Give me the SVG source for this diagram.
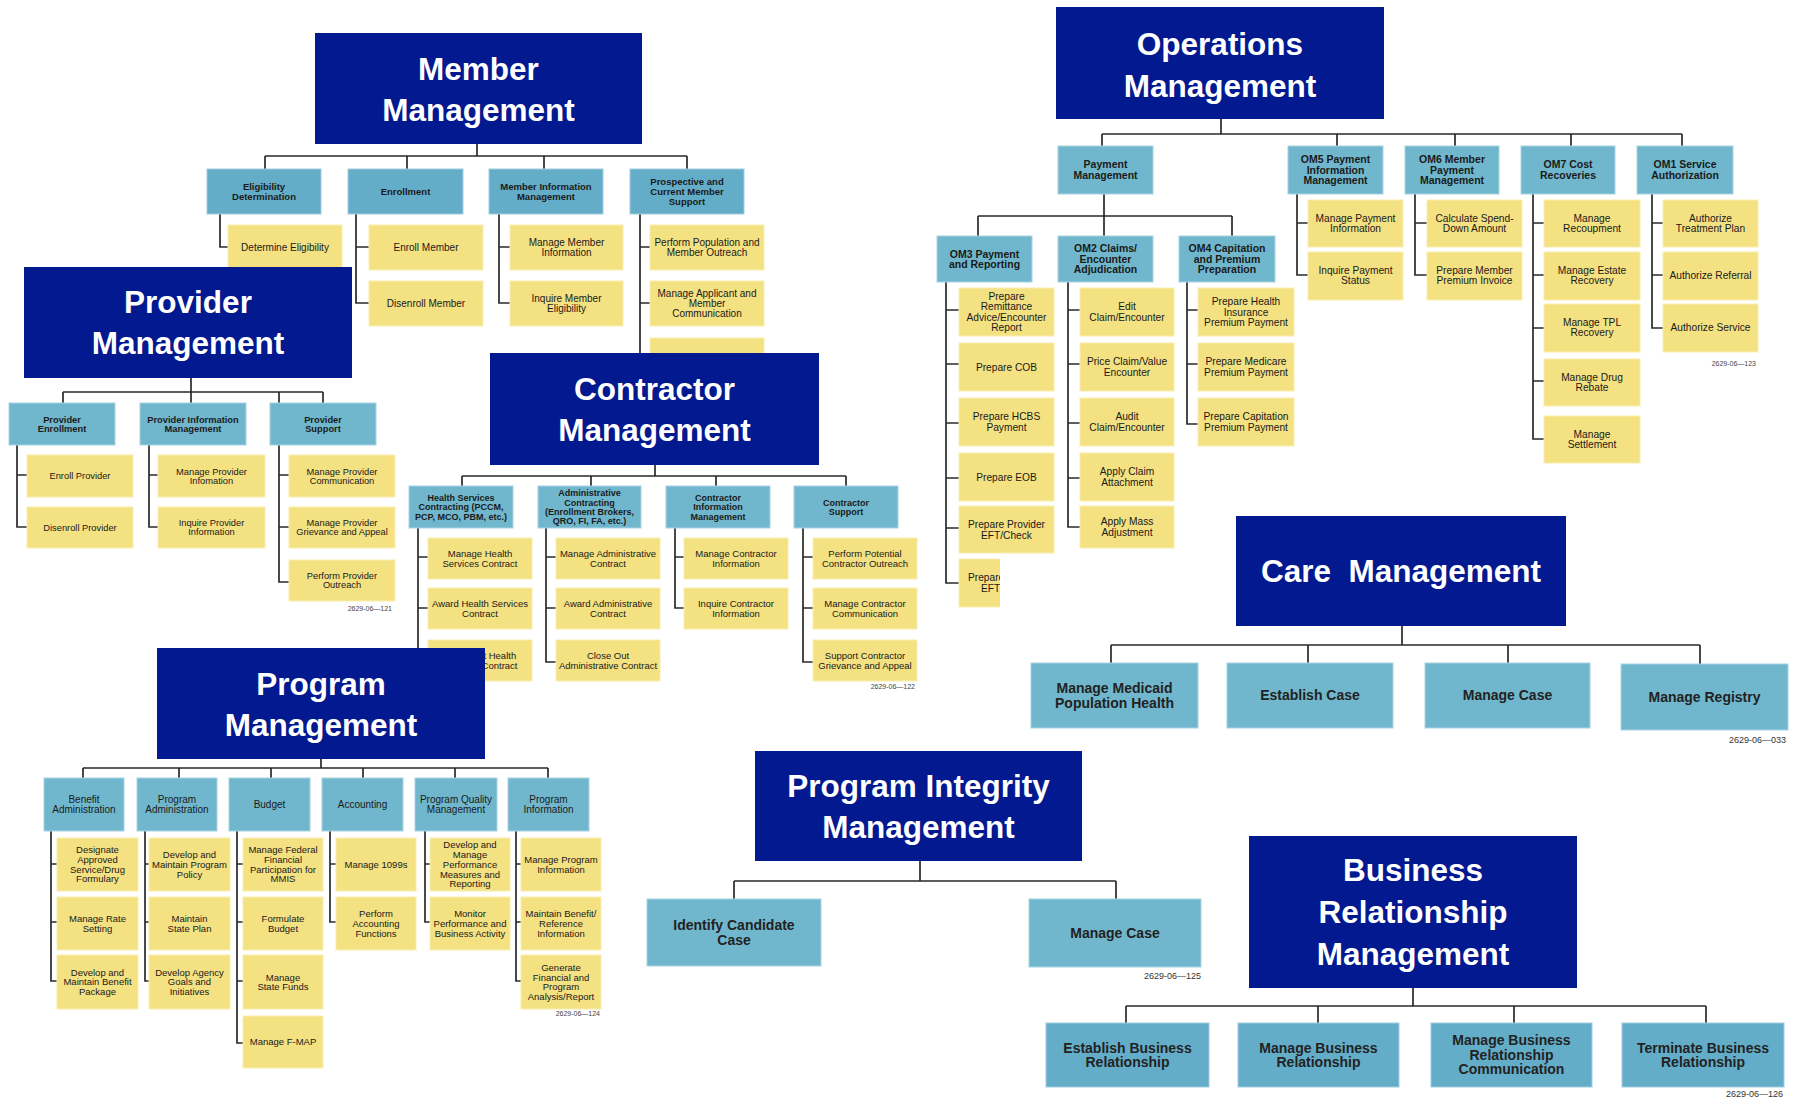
<svg xmlns="http://www.w3.org/2000/svg" width="1794" height="1099" viewBox="0 0 1794 1099">
<style>
.bg{fill:#fff}
.tb{fill:#03198F}
.tt{fill:#fff;font-family:'Liberation Sans',Arial,sans-serif;font-weight:bold;font-size:31.5px;text-anchor:middle}
.hb{fill:#70B7CD;stroke:#A8D4E2;stroke-width:1}
.hm{fill:#63ADC9;stroke:#A0CEE0;stroke-width:1}
.yb{fill:#F4E182;stroke:#FAEDB0;stroke-width:1}
.ln{stroke:#2a2a2a;stroke-width:1.7;fill:none}
text{font-family:'Liberation Sans',Arial,sans-serif;text-anchor:middle;fill:#1a1a1a}
.mh{font-size:9.5px;font-weight:bold}
.mc{font-size:10px}
.ph{font-size:9.3px;font-weight:bold}
.pc{font-size:9.3px}
.ch{font-size:9px;font-weight:bold}
.cc{font-size:9.5px}
.gh{font-size:10px}
.gc{font-size:9.5px}
.oh{font-size:10.5px;font-weight:bold}
.oc{font-size:10.2px}
.big{font-size:14px;font-weight:bold;fill:#222}
.lb{font-size:7px;text-anchor:end;fill:#444}
.lb2{font-size:9px;text-anchor:end;fill:#333}
</style>
<defs>
<clipPath id="clipL"><rect x="0" y="0" width="1000" height="1099"/></clipPath>
</defs>
<rect class="bg" x="0" y="0" width="1794" height="1099"/>

<g id="connectors">
<path class="ln" d="M477 144V156 M265 156H687 M265 156V169 M407 156V169 M544 156V169 M687 156V169 M220 214V247H228 M356 214V303H369 M356 247H369 M499 214V303H510 M499 247H510 M640 214V353 M640 247H650 M640 303H650"/>
<path class="ln" d="M191 378V392 M63 392H323 M63 392V403 M191 392V403 M279 392V403 M323 392V403 M17 445V527H27 M17 475H27 M149 445V527H158 M149 475H158 M279 445V582H289 M279 475H289 M279 527H289"/>
<path class="ln" d="M655 465V476 M462 476H846 M462 476V486 M591 476V486 M716 476V486 M846 476V486 M418 528V662H428 M418 557H428 M418 608H428 M546 528V662H556 M546 557H556 M546 608H556 M675 528V608H684 M675 557H684 M803 528V662H813 M803 557H813 M803 608H813"/>
<path class="ln" d="M321 759V768 M83 768H548 M83 768V778 M179 768V778 M271 768V778 M363 768V778 M455 768V778 M548 768V778 M51 831V981H57 M51 864H57 M51 922H57 M145 831V981H149 M145 864H149 M145 922H149 M237 831V1043H243 M237 864H243 M237 922H243 M237 981H243 M330 831V922H336 M330 864H336 M425 831V922H430 M425 864H430 M516 831V981H521 M516 864H521 M516 922H521"/>
<path class="ln" d="M1221 119V134 M1102 134H1682 M1102 134V146 M1337 134V146 M1455 134V146 M1571 134V146 M1682 134V146 M1104 194V216 M978 216H1232 M978 216V236 M1104 216V236 M1232 216V236 M946 282V583H959 M946 310H959 M946 364H959 M946 423H959 M946 478H959 M946 528H959 M1068 282V527H1080 M1068 310H1080 M1068 364H1080 M1068 423H1080 M1068 478H1080 M1187 282V424H1198 M1187 310H1198 M1187 364H1198 M1297 194V275H1308 M1297 223H1308 M1415 194V275H1427 M1415 223H1427 M1533 194V439H1544 M1533 223H1544 M1533 275H1544 M1533 328H1544 M1533 381H1544 M1652 194V328H1663 M1652 223H1663 M1652 275H1663"/>
<path class="ln" d="M1402 626V645 M1111 645H1700 M1111 645V663 M1308 645V663 M1508 645V663 M1700 645V664"/>
<path class="ln" d="M920 861V881 M734 881H1116 M734 881V899 M1116 881V899"/>
<path class="ln" d="M1413 988V1006 M1126 1006H1706 M1126 1006V1023 M1318 1006V1023 M1514 1006V1023 M1706 1006V1023"/>
</g>

<!-- Member Management -->
<g id="mm-title"><rect class="tb" x="315" y="33" width="327" height="111"/><text class="tt"><tspan x="478.5" y="80">Member</tspan><tspan x="478.5" y="121">Management</tspan></text></g>
<g id="mm-elig"><rect class="hm" x="207" y="169" width="114" height="45"/><text class="mh"><tspan x="264" y="190">Eligibility</tspan><tspan x="264" y="199.7">Determination</tspan></text></g>
<g id="mm-enr"><rect class="hm" x="348" y="169" width="115" height="45"/><text class="mh" x="405.5" y="194.8">Enrollment</text></g>
<g id="mm-info"><rect class="hm" x="489" y="169" width="114" height="45"/><text class="mh"><tspan x="546" y="190">Member Information</tspan><tspan x="546" y="199.7">Management</tspan></text></g>
<g id="mm-supp"><rect class="hm" x="630" y="169" width="114" height="45"/><text class="mh"><tspan x="687" y="185.1">Prospective and</tspan><tspan x="687" y="194.8">Current Member</tspan><tspan x="687" y="204.5">Support</tspan></text></g>
<g id="mm-det"><rect class="yb" x="228" y="225" width="114" height="45"/><text class="mc" x="285" y="251">Determine Eligibility</text></g>
<g id="mm-enroll"><rect class="yb" x="369" y="225" width="114" height="45"/><text class="mc" x="426" y="251">Enroll Member</text></g>
<g id="mm-disenroll"><rect class="yb" x="369" y="281" width="114" height="45"/><text class="mc" x="426" y="307">Disenroll Member</text></g>
<g id="mm-mmi"><rect class="yb" x="510" y="225" width="113" height="45"/><text class="mc"><tspan x="566.5" y="246.1">Manage Member</tspan><tspan x="566.5" y="255.9">Information</tspan></text></g>
<g id="mm-ime"><rect class="yb" x="510" y="281" width="113" height="45"/><text class="mc"><tspan x="566.5" y="302.1">Inquire Member</tspan><tspan x="566.5" y="311.9">Eligibility</tspan></text></g>
<g id="mm-ppo"><rect class="yb" x="650" y="225" width="114" height="45"/><text class="mc"><tspan x="707" y="246.1">Perform Population and</tspan><tspan x="707" y="255.9">Member Outreach</tspan></text></g>
<g id="mm-mac"><rect class="yb" x="650" y="281" width="114" height="45"/><text class="mc"><tspan x="707" y="297.2">Manage Applicant and</tspan><tspan x="707" y="307">Member</tspan><tspan x="707" y="316.8">Communication</tspan></text></g>
<g id="mm-hidden"><rect class="yb" x="650" y="338" width="114" height="30"/></g>

<!-- Provider Management -->
<g id="pm-title"><rect class="tb" x="24" y="267" width="328" height="111"/><text class="tt"><tspan x="188" y="313">Provider</tspan><tspan x="188" y="354">Management</tspan></text></g>
<g id="pm-enr"><rect class="hb" x="9" y="403" width="106" height="42"/><text class="ph"><tspan x="62" y="422.6">Provider</tspan><tspan x="62" y="431.9">Enrollment</tspan></text></g>
<g id="pm-info"><rect class="hb" x="140" y="403" width="106" height="42"/><text class="ph"><tspan x="193" y="422.6">Provider Information</tspan><tspan x="193" y="431.9">Management</tspan></text></g>
<g id="pm-supp"><rect class="hb" x="270" y="403" width="106" height="42"/><text class="ph"><tspan x="323" y="422.6">Provider</tspan><tspan x="323" y="431.9">Support</tspan></text></g>
<g id="pm-ep"><rect class="yb" x="27" y="455" width="106" height="42"/><text class="pc" x="80" y="479.3">Enroll Provider</text></g>
<g id="pm-dp"><rect class="yb" x="27" y="507" width="106" height="41"/><text class="pc" x="80" y="530.8">Disenroll Provider</text></g>
<g id="pm-mpi"><rect class="yb" x="158" y="455" width="107" height="42"/><text class="pc"><tspan x="211.5" y="474.6">Manage Provider</tspan><tspan x="211.5" y="483.9">Infomation</tspan></text></g>
<g id="pm-ipi"><rect class="yb" x="158" y="507" width="107" height="41"/><text class="pc"><tspan x="211.5" y="526.1">Inquire Provider</tspan><tspan x="211.5" y="535.4">Information</tspan></text></g>
<g id="pm-mpc"><rect class="yb" x="289" y="455" width="106" height="42"/><text class="pc"><tspan x="342" y="474.6">Manage Provider</tspan><tspan x="342" y="483.9">Communication</tspan></text></g>
<g id="pm-mpg"><rect class="yb" x="289" y="507" width="106" height="41"/><text class="pc"><tspan x="342" y="526.1">Manage Provider</tspan><tspan x="342" y="535.4">Grievance and Appeal</tspan></text></g>
<g id="pm-ppo"><rect class="yb" x="289" y="560" width="106" height="41"/><text class="pc"><tspan x="342" y="579.1">Perform Provider</tspan><tspan x="342" y="588.4">Outreach</tspan></text></g>
<text class="lb" x="392" y="611">2629-06—121</text>

<!-- Contractor Management -->
<g id="cm-title"><rect class="tb" x="490" y="353" width="329" height="112"/><text class="tt"><tspan x="654.5" y="400">Contractor</tspan><tspan x="654.5" y="441">Management</tspan></text></g>
<g id="cm-hs"><rect class="hb" x="409" y="486" width="104" height="42"/><text class="ch"><tspan x="461" y="500.9">Health Services</tspan><tspan x="461" y="510.2">Contracting (PCCM,</tspan><tspan x="461" y="519.5">PCP, MCO, PBM, etc.)</tspan></text></g>
<g id="cm-ad"><rect class="hb" x="538" y="486" width="103" height="42"/><text class="ch"><tspan x="589.5" y="496.2">Administrative</tspan><tspan x="589.5" y="505.5">Contracting</tspan><tspan x="589.5" y="514.8">(Enrollment Brokers,</tspan><tspan x="589.5" y="524.1">QRO, FI, FA, etc.)</tspan></text></g>
<g id="cm-ci"><rect class="hb" x="666" y="486" width="104" height="42"/><text class="ch"><tspan x="718" y="500.9">Contractor</tspan><tspan x="718" y="510.2">Information</tspan><tspan x="718" y="519.5">Management</tspan></text></g>
<g id="cm-cs"><rect class="hb" x="794" y="486" width="104" height="42"/><text class="ch"><tspan x="846" y="505.5">Contractor</tspan><tspan x="846" y="514.8">Support</tspan></text></g>
<g id="cm-mhs"><rect class="yb" x="428" y="538" width="104" height="41"/><text class="cc"><tspan x="480" y="557.1">Manage Health</tspan><tspan x="480" y="566.6">Services Contract</tspan></text></g>
<g id="cm-ahs"><rect class="yb" x="428" y="588" width="104" height="41"/><text class="cc"><tspan x="480" y="607.1">Award Health Services</tspan><tspan x="480" y="616.6">Contract</tspan></text></g>
<g id="cm-chs"><rect class="yb" x="428" y="640" width="104" height="41"/><text class="cc"><tspan x="480" y="659.1">Close Out Health</tspan><tspan x="480" y="668.6">Services Contract</tspan></text></g>
<g id="cm-mac"><rect class="yb" x="556" y="538" width="104" height="41"/><text class="cc"><tspan x="608" y="557.1">Manage Administrative</tspan><tspan x="608" y="566.6">Contract</tspan></text></g>
<g id="cm-aac"><rect class="yb" x="556" y="588" width="104" height="41"/><text class="cc"><tspan x="608" y="607.1">Award Administrative</tspan><tspan x="608" y="616.6">Contract</tspan></text></g>
<g id="cm-cac"><rect class="yb" x="556" y="640" width="104" height="41"/><text class="cc"><tspan x="608" y="659.1">Close Out</tspan><tspan x="608" y="668.6">Administrative Contract</tspan></text></g>
<g id="cm-mci"><rect class="yb" x="684" y="538" width="104" height="41"/><text class="cc"><tspan x="736" y="557.1">Manage Contractor</tspan><tspan x="736" y="566.6">Information</tspan></text></g>
<g id="cm-ici"><rect class="yb" x="684" y="588" width="104" height="41"/><text class="cc"><tspan x="736" y="607.1">Inquire Contractor</tspan><tspan x="736" y="616.6">Information</tspan></text></g>
<g id="cm-ppc"><rect class="yb" x="813" y="538" width="104" height="41"/><text class="cc"><tspan x="865" y="557.1">Perform Potential</tspan><tspan x="865" y="566.6">Contractor Outreach</tspan></text></g>
<g id="cm-mcc"><rect class="yb" x="813" y="588" width="104" height="41"/><text class="cc"><tspan x="865" y="607.1">Manage Contractor</tspan><tspan x="865" y="616.6">Communication</tspan></text></g>
<g id="cm-scg"><rect class="yb" x="813" y="640" width="104" height="41"/><text class="cc"><tspan x="865" y="659.1">Support Contractor</tspan><tspan x="865" y="668.6">Grievance and Appeal</tspan></text></g>
<text class="lb" x="915" y="689">2629-06—122</text>

<!-- Program Management -->
<g id="prg-title"><rect class="tb" x="157" y="648" width="328" height="111"/><text class="tt"><tspan x="321" y="695">Program</tspan><tspan x="321" y="736">Management</tspan></text></g>
<g id="prg-ba"><rect class="hb" x="44" y="778" width="80" height="53"/><text class="gh"><tspan x="84" y="803.2">Benefit</tspan><tspan x="84" y="812.9">Administration</tspan></text></g>
<g id="prg-pa"><rect class="hb" x="137" y="778" width="80" height="53"/><text class="gh"><tspan x="177" y="803.2">Program</tspan><tspan x="177" y="812.9">Administration</tspan></text></g>
<g id="prg-bu"><rect class="hb" x="229" y="778" width="81" height="53"/><text class="gh" x="269.5" y="808">Budget</text></g>
<g id="prg-ac"><rect class="hb" x="322" y="778" width="81" height="53"/><text class="gh" x="362.5" y="808">Accounting</text></g>
<g id="prg-pq"><rect class="hb" x="415" y="778" width="82" height="53"/><text class="gh"><tspan x="456" y="803.2">Program Quality</tspan><tspan x="456" y="812.9">Management</tspan></text></g>
<g id="prg-pi"><rect class="hb" x="508" y="778" width="81" height="53"/><text class="gh"><tspan x="548.5" y="803.2">Program</tspan><tspan x="548.5" y="812.9">Information</tspan></text></g>
<g id="prg-ba1"><rect class="yb" x="57" y="838" width="81" height="53"/><text class="gc"><tspan x="97.5" y="853.3">Designate</tspan><tspan x="97.5" y="863">Approved</tspan><tspan x="97.5" y="872.7">Service/Drug</tspan><tspan x="97.5" y="882.4">Formulary</tspan></text></g>
<g id="prg-ba2"><rect class="yb" x="57" y="897" width="81" height="53"/><text class="gc"><tspan x="97.5" y="922">Manage Rate</tspan><tspan x="97.5" y="931.7">Setting</tspan></text></g>
<g id="prg-ba3"><rect class="yb" x="57" y="955" width="81" height="54"/><text class="gc"><tspan x="97.5" y="975.6">Develop and</tspan><tspan x="97.5" y="985.3">Maintain Benefit</tspan><tspan x="97.5" y="995">Package</tspan></text></g>
<g id="prg-pa1"><rect class="yb" x="149" y="838" width="81" height="53"/><text class="gc"><tspan x="189.5" y="858.1">Develop and</tspan><tspan x="189.5" y="867.8">Maintain Program</tspan><tspan x="189.5" y="877.5">Policy</tspan></text></g>
<g id="prg-pa2"><rect class="yb" x="149" y="897" width="81" height="53"/><text class="gc"><tspan x="189.5" y="922">Maintain</tspan><tspan x="189.5" y="931.7">State Plan</tspan></text></g>
<g id="prg-pa3"><rect class="yb" x="149" y="955" width="81" height="54"/><text class="gc"><tspan x="189.5" y="975.6">Develop Agency</tspan><tspan x="189.5" y="985.3">Goals and</tspan><tspan x="189.5" y="995">Initiatives</tspan></text></g>
<g id="prg-bu1"><rect class="yb" x="243" y="838" width="80" height="53"/><text class="gc"><tspan x="283" y="853.3">Manage Federal</tspan><tspan x="283" y="863">Financial</tspan><tspan x="283" y="872.7">Participation for</tspan><tspan x="283" y="882.4">MMIS</tspan></text></g>
<g id="prg-bu2"><rect class="yb" x="243" y="897" width="80" height="53"/><text class="gc"><tspan x="283" y="922">Formulate</tspan><tspan x="283" y="931.7">Budget</tspan></text></g>
<g id="prg-bu3"><rect class="yb" x="243" y="955" width="80" height="54"/><text class="gc"><tspan x="283" y="980.5">Manage</tspan><tspan x="283" y="990.2">State Funds</tspan></text></g>
<g id="prg-bu4"><rect class="yb" x="243" y="1016" width="80" height="52"/><text class="gc" x="283" y="1045.3">Manage F-MAP</text></g>
<g id="prg-ac1"><rect class="yb" x="336" y="838" width="80" height="53"/><text class="gc" x="376" y="867.8">Manage 1099s</text></g>
<g id="prg-ac2"><rect class="yb" x="336" y="897" width="80" height="53"/><text class="gc"><tspan x="376" y="917.1">Perform</tspan><tspan x="376" y="926.8">Accounting</tspan><tspan x="376" y="936.5">Functions</tspan></text></g>
<g id="prg-pq1"><rect class="yb" x="430" y="838" width="80" height="53"/><text class="gc"><tspan x="470" y="848.4">Develop and</tspan><tspan x="470" y="858.1">Manage</tspan><tspan x="470" y="867.8">Performance</tspan><tspan x="470" y="877.5">Measures and</tspan><tspan x="470" y="887.2">Reporting</tspan></text></g>
<g id="prg-pq2"><rect class="yb" x="430" y="897" width="80" height="53"/><text class="gc"><tspan x="470" y="917.1">Monitor</tspan><tspan x="470" y="926.8">Performance and</tspan><tspan x="470" y="936.5">Business Activity</tspan></text></g>
<g id="prg-pi1"><rect class="yb" x="521" y="838" width="80" height="53"/><text class="gc"><tspan x="561" y="863">Manage Program</tspan><tspan x="561" y="872.7">Information</tspan></text></g>
<g id="prg-pi2"><rect class="yb" x="521" y="897" width="80" height="53"/><text class="gc"><tspan x="561" y="917.1">Maintain Benefit/</tspan><tspan x="561" y="926.8">Reference</tspan><tspan x="561" y="936.5">Information</tspan></text></g>
<g id="prg-pi3"><rect class="yb" x="521" y="955" width="80" height="54"/><text class="gc"><tspan x="561" y="970.8">Generate</tspan><tspan x="561" y="980.5">Financial and</tspan><tspan x="561" y="990.2">Program</tspan><tspan x="561" y="999.9">Analysis/Report</tspan></text></g>
<text class="lb" x="600" y="1016">2629-06—124</text>

<!-- Operations Management -->
<g id="om-title"><rect class="tb" x="1056" y="7" width="328" height="112"/><text class="tt"><tspan x="1220" y="55">Operations</tspan><tspan x="1220" y="97">Management</tspan></text></g>
<g id="om-pay"><rect class="hb" x="1058" y="146" width="95" height="48"/><text class="oh"><tspan x="1105.5" y="168.4">Payment</tspan><tspan x="1105.5" y="178.9">Management</tspan></text></g>
<g id="om-5"><rect class="hb" x="1288" y="146" width="95" height="48"/><text class="oh"><tspan x="1335.5" y="163.2">OM5 Payment</tspan><tspan x="1335.5" y="173.7">Information</tspan><tspan x="1335.5" y="184.2">Management</tspan></text></g>
<g id="om-6"><rect class="hb" x="1405" y="146" width="94" height="48"/><text class="oh"><tspan x="1452" y="163.2">OM6 Member</tspan><tspan x="1452" y="173.7">Payment</tspan><tspan x="1452" y="184.2">Management</tspan></text></g>
<g id="om-7"><rect class="hb" x="1521" y="146" width="94" height="48"/><text class="oh"><tspan x="1568" y="168.4">OM7 Cost</tspan><tspan x="1568" y="178.9">Recoveries</tspan></text></g>
<g id="om-1"><rect class="hb" x="1637" y="146" width="96" height="48"/><text class="oh"><tspan x="1685" y="168.4">OM1 Service</tspan><tspan x="1685" y="178.9">Authorization</tspan></text></g>
<g id="om-3"><rect class="hb" x="937" y="236" width="95" height="46"/><text class="oh"><tspan x="984.5" y="257.5">OM3 Payment</tspan><tspan x="984.5" y="268">and Reporting</tspan></text></g>
<g id="om-2"><rect class="hb" x="1058" y="236" width="95" height="46"/><text class="oh"><tspan x="1105.5" y="252.2">OM2 Claims/</tspan><tspan x="1105.5" y="262.7">Encounter</tspan><tspan x="1105.5" y="273.2">Adjudication</tspan></text></g>
<g id="om-4"><rect class="hb" x="1179" y="236" width="96" height="46"/><text class="oh"><tspan x="1227" y="252.2">OM4 Capitation</tspan><tspan x="1227" y="262.7">and Premium</tspan><tspan x="1227" y="273.2">Preparation</tspan></text></g>
<g id="om3-1"><rect class="yb" x="959" y="288" width="95" height="48"/><text class="oc"><tspan x="1006.5" y="299.8">Prepare</tspan><tspan x="1006.5" y="310.3">Remittance</tspan><tspan x="1006.5" y="320.8">Advice/Encounter</tspan><tspan x="1006.5" y="331.3">Report</tspan></text></g>
<g id="om3-2"><rect class="yb" x="959" y="343" width="95" height="48"/><text class="oc" x="1006.5" y="370.6">Prepare COB</text></g>
<g id="om3-3"><rect class="yb" x="959" y="398" width="95" height="48"/><text class="oc"><tspan x="1006.5" y="420.3">Prepare HCBS</tspan><tspan x="1006.5" y="430.8">Payment</tspan></text></g>
<g id="om3-4"><rect class="yb" x="959" y="453" width="95" height="48"/><text class="oc" x="1006.5" y="480.6">Prepare EOB</text></g>
<g id="om3-5"><rect class="yb" x="959" y="506" width="95" height="47"/><text class="oc"><tspan x="1006.5" y="528.3">Prepare Provider</tspan><tspan x="1006.5" y="538.8">EFT/Check</tspan></text></g>
<g id="om3-6" clip-path="url(#clipL)"><rect class="yb" x="959" y="559" width="95" height="48"/><text class="oc"><tspan x="1006.5" y="581.3">Prepare Provider</tspan><tspan x="1006.5" y="591.8">EFT/Check</tspan></text></g>
<g id="om2-1"><rect class="yb" x="1080" y="288" width="94" height="48"/><text class="oc"><tspan x="1127" y="310.3">Edit</tspan><tspan x="1127" y="320.8">Claim/Encounter</tspan></text></g>
<g id="om2-2"><rect class="yb" x="1080" y="343" width="94" height="48"/><text class="oc"><tspan x="1127" y="365.3">Price Claim/Value</tspan><tspan x="1127" y="375.8">Encounter</tspan></text></g>
<g id="om2-3"><rect class="yb" x="1080" y="398" width="94" height="48"/><text class="oc"><tspan x="1127" y="420.3">Audit</tspan><tspan x="1127" y="430.8">Claim/Encounter</tspan></text></g>
<g id="om2-4"><rect class="yb" x="1080" y="453" width="94" height="48"/><text class="oc"><tspan x="1127" y="475.3">Apply Claim</tspan><tspan x="1127" y="485.8">Attachment</tspan></text></g>
<g id="om2-5"><rect class="yb" x="1080" y="506" width="94" height="42"/><text class="oc"><tspan x="1127" y="525.3">Apply Mass</tspan><tspan x="1127" y="535.8">Adjustment</tspan></text></g>
<g id="om4-1"><rect class="yb" x="1198" y="288" width="96" height="48"/><text class="oc"><tspan x="1246" y="305.1">Prepare Health</tspan><tspan x="1246" y="315.6">Insurance</tspan><tspan x="1246" y="326.1">Premium Payment</tspan></text></g>
<g id="om4-2"><rect class="yb" x="1198" y="343" width="96" height="48"/><text class="oc"><tspan x="1246" y="365.3">Prepare Medicare</tspan><tspan x="1246" y="375.8">Premium Payment</tspan></text></g>
<g id="om4-3"><rect class="yb" x="1198" y="398" width="96" height="48"/><text class="oc"><tspan x="1246" y="420.3">Prepare Capitation</tspan><tspan x="1246" y="430.8">Premium Payment</tspan></text></g>
<g id="om5-1"><rect class="yb" x="1308" y="200" width="95" height="47"/><text class="oc"><tspan x="1355.5" y="221.9">Manage Payment</tspan><tspan x="1355.5" y="232.4">Information</tspan></text></g>
<g id="om5-2"><rect class="yb" x="1308" y="252" width="95" height="48"/><text class="oc"><tspan x="1355.5" y="273.9">Inquire Payment</tspan><tspan x="1355.5" y="284.4">Status</tspan></text></g>
<g id="om6-1"><rect class="yb" x="1427" y="200" width="95" height="47"/><text class="oc"><tspan x="1474.5" y="221.9">Calculate Spend-</tspan><tspan x="1474.5" y="232.4">Down Amount</tspan></text></g>
<g id="om6-2"><rect class="yb" x="1427" y="252" width="95" height="48"/><text class="oc"><tspan x="1474.5" y="273.9">Prepare Member</tspan><tspan x="1474.5" y="284.4">Premium Invoice</tspan></text></g>
<g id="om7-1"><rect class="yb" x="1544" y="200" width="96" height="47"/><text class="oc"><tspan x="1592" y="221.9">Manage</tspan><tspan x="1592" y="232.4">Recoupment</tspan></text></g>
<g id="om7-2"><rect class="yb" x="1544" y="252" width="96" height="48"/><text class="oc"><tspan x="1592" y="273.9">Manage Estate</tspan><tspan x="1592" y="284.4">Recovery</tspan></text></g>
<g id="om7-3"><rect class="yb" x="1544" y="304" width="96" height="48"/><text class="oc"><tspan x="1592" y="325.9">Manage TPL</tspan><tspan x="1592" y="336.4">Recovery</tspan></text></g>
<g id="om7-4"><rect class="yb" x="1544" y="359" width="96" height="47"/><text class="oc"><tspan x="1592" y="380.9">Manage Drug</tspan><tspan x="1592" y="391.4">Rebate</tspan></text></g>
<g id="om7-5"><rect class="yb" x="1544" y="416" width="96" height="47"/><text class="oc"><tspan x="1592" y="437.9">Manage</tspan><tspan x="1592" y="448.4">Settlement</tspan></text></g>
<g id="om1-1"><rect class="yb" x="1663" y="200" width="95" height="47"/><text class="oc"><tspan x="1710.5" y="221.9">Authorize</tspan><tspan x="1710.5" y="232.4">Treatment Plan</tspan></text></g>
<g id="om1-2"><rect class="yb" x="1663" y="252" width="95" height="48"/><text class="oc" x="1710.5" y="279.1">Authorize Referral</text></g>
<g id="om1-3"><rect class="yb" x="1663" y="304" width="95" height="48"/><text class="oc" x="1710.5" y="331.1">Authorize Service</text></g>
<text class="lb" x="1756" y="366">2629-06—123</text>

<!-- Care Management -->
<g id="care-title"><rect class="tb" x="1236" y="516" width="330" height="110"/><text class="tt" x="1401" y="582" xml:space="preserve" style="white-space:pre">Care  Management</text></g>
<g id="care-1"><rect class="hb" x="1031" y="663" width="167" height="65"/><text class="big"><tspan x="1114.5" y="693.2">Manage Medicaid</tspan><tspan x="1114.5" y="707.7">Population Health</tspan></text></g>
<g id="care-2"><rect class="hb" x="1227" y="663" width="166" height="65"/><text class="big" x="1310" y="700.4">Establish Case</text></g>
<g id="care-3"><rect class="hb" x="1425" y="663" width="165" height="65"/><text class="big" x="1507.5" y="700.4">Manage Case</text></g>
<g id="care-4"><rect class="hb" x="1621" y="664" width="167" height="66"/><text class="big" x="1704.5" y="701.9">Manage Registry</text></g>
<text class="lb2" x="1786" y="743">2629-06—033</text>

<!-- Program Integrity Management -->
<g id="pi-title"><rect class="tb" x="755" y="751" width="327" height="110"/><text class="tt"><tspan x="918.5" y="797">Program Integrity</tspan><tspan x="918.5" y="838">Management</tspan></text></g>
<g id="pi-1"><rect class="hb" x="647" y="899" width="174" height="67"/><text class="big"><tspan x="734" y="930.2">Identify Candidate</tspan><tspan x="734" y="944.7">Case</tspan></text></g>
<g id="pi-2"><rect class="hb" x="1029" y="899" width="172" height="68"/><text class="big" x="1115" y="937.9">Manage Case</text></g>
<text class="lb2" x="1201" y="979">2629-06—125</text>

<!-- Business Relationship Management -->
<g id="brm-title"><rect class="tb" x="1249" y="836" width="328" height="152"/><text class="tt"><tspan x="1413" y="881">Business</tspan><tspan x="1413" y="923">Relationship</tspan><tspan x="1413" y="965">Management</tspan></text></g>
<g id="brm-1"><rect class="hm" x="1046" y="1023" width="163" height="64"/><text class="big"><tspan x="1127.5" y="1052.7">Establish Business</tspan><tspan x="1127.5" y="1067.2">Relationship</tspan></text></g>
<g id="brm-2"><rect class="hm" x="1238" y="1023" width="161" height="64"/><text class="big"><tspan x="1318.5" y="1052.7">Manage Business</tspan><tspan x="1318.5" y="1067.2">Relationship</tspan></text></g>
<g id="brm-3"><rect class="hm" x="1431" y="1023" width="161" height="64"/><text class="big"><tspan x="1511.5" y="1045.4">Manage Business</tspan><tspan x="1511.5" y="1059.9">Relationship</tspan><tspan x="1511.5" y="1074.4">Communication</tspan></text></g>
<g id="brm-4"><rect class="hm" x="1622" y="1023" width="162" height="64"/><text class="big"><tspan x="1703" y="1052.7">Terminate Business</tspan><tspan x="1703" y="1067.2">Relationship</tspan></text></g>
<text class="lb2" x="1783" y="1097">2629-06—126</text>
</svg>
